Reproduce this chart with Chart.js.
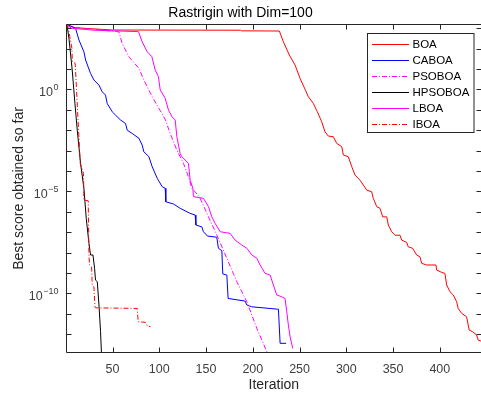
<!DOCTYPE html>
<html lang="en">
  <head>
    <meta charset="UTF-8" />
    <title>Rastrigin with Dim=100</title>
    <style>
      body {
        margin: 0;
        padding: 0;
        background: #ffffff;
      }
      .wrap {
        width: 481px;
        height: 394px;
        position: relative;
      }
    </style>
  </head>
  <body>
    <div class="wrap">
      <canvas id="convChart"></canvas>
    </div>

    <script src="https://cdn.jsdelivr.net/npm/chart.js"></script>
    <script>
      // values are log10 of the best score
      const boaIter = [1, 10, 50, 187, 188, 228.4, 232.7, 239.1, 245.2, 250.5, 255.9, 259.4, 264.7, 269, 273.7, 277.2, 280.8, 286.1, 289.7, 295.1, 296.8, 302.1, 305.8, 309.3, 314.6, 318.2, 321.8, 327.1, 328.8, 332.5, 336, 338.9, 343.2, 344.9, 348.5, 352, 357.4, 359.2, 364.5, 366.2, 370.9, 375.2, 378.7, 380.6, 385.9, 395.8, 396.6, 401.9, 405.4, 407.3, 410.8, 414.3, 418, 419.6, 423.3, 428.6, 431.4, 435, 439.3, 441, 444];
      const boaLog = [3.19, 3.02, 2.91, 2.9, 2.87, 2.86, 2.33, 1.68, 1.19, 0.54, 0.0, -0.36, -0.69, -1.1, -1.59, -2.08, -2.29, -2.32, -2.65, -2.81, -3.22, -3.3, -3.79, -4.2, -4.45, -4.69, -4.94, -5.02, -5.34, -5.75, -5.83, -6.25, -6.25, -6.65, -6.98, -7.15, -7.15, -7.39, -7.5, -7.72, -7.79, -8.12, -8.21, -8.53, -8.61, -8.61, -8.86, -8.97, -9.02, -9.59, -9.92, -10.08, -10.41, -10.74, -10.98, -11.15, -11.8, -11.88, -12.04, -12.29, -12.34];

      const cabaIter = [1, 10.5, 14.1, 19.4, 21.2, 26.5, 30.1, 35.5, 39, 42.5, 44.3, 49.7, 53.2, 58.5, 63.9, 65.7, 71, 78.2, 81.7, 83.5, 88.9, 92.4, 97.8, 103.1, 106.3, 107, 115.2, 122.3, 133, 138.4, 139.1, 145.5, 147.2, 151.5, 161.5, 163.2, 166.9, 167.9, 172.2, 173.6, 191.8, 193.6, 198.9, 227.4, 229.2, 235.6];
      const cabaLog = [3.19, 2.99, 2.42, 1.84, 1.44, 0.78, 0.46, 0.21, -0.12, -0.28, -0.69, -1.1, -1.26, -1.5, -1.67, -2.0, -2.16, -2.4, -2.73, -3.06, -3.3, -3.79, -4.36, -4.77, -4.85, -5.51, -5.62, -5.83, -6.08, -6.16, -6.65, -6.74, -6.98, -7.19, -7.25, -7.79, -7.91, -9.05, -9.1, -10.25, -10.38, -10.57, -10.66, -10.78, -12.45, -12.45];

      const psoIter = [1, 3.4, 56.8, 60.3, 67.5, 78.2, 83.5, 92.4, 99.6, 106.6, 111.6, 118.8, 125.9, 131.2, 134.8, 142.9, 152.6, 161.5, 172.2, 182.9, 193.6, 204.3, 215, 216];
      const psoLog = [3.19, 3.07, 2.82, 2.25, 1.6, 1.03, 0.46, -0.36, -0.93, -1.5, -2.16, -2.98, -3.63, -4.28, -4.85, -5.26, -6.25, -7.14, -8.28, -9.43, -10.41, -11.72, -12.86, -13.0];

      const hpsoIter = [1, 1.6, 3.4, 6.9, 9.8, 12.3, 15.8, 19.4, 21.9, 24.8, 26.5, 29.1, 30.8, 31.8, 33.7, 35.5, 37.2, 38.4];
      const hpsoLog = [3.19, 3.07, 2.5, 0.95, -0.69, -2.0, -3.63, -4.85, -6.32, -7.55, -8.12, -8.12, -8.77, -9.35, -9.43, -10.57, -11.88, -13.2];

      const lboaIter = [1, 6, 30, 77.8, 81.7, 87.1, 92.1, 95.6, 99.1, 101, 106.3, 109.8, 113.5, 117, 118.8, 122.3, 124.1, 131.2, 133, 135.9, 136.5, 147.2, 152.6, 156.2, 159.7, 165.1, 175.7, 181.1, 188.2, 193.6, 198.9, 204.3, 207.8, 213.1, 218.5, 222, 225.6, 231, 234.5, 236.3, 238, 239.9, 242.7];
      const lboaLog = [3.19, 3.0, 2.9, 2.83, 2.33, 1.84, 1.6, 0.95, 0.62, -0.03, -0.44, -1.01, -1.34, -1.5, -2.32, -3.14, -3.3, -3.63, -4.45, -4.85, -5.26, -5.34, -5.75, -6.25, -6.57, -6.98, -7.06, -7.39, -7.63, -7.79, -8.12, -8.28, -8.61, -9.02, -9.1, -9.59, -10.08, -10.17, -10.25, -10.9, -11.55, -12.13, -12.7];

      const iboaIter = [1, 2.7, 6.6, 7, 10.1, 12.6, 15.5, 19, 19.4, 24, 24.8, 25.4, 27.6, 28.3, 30.1, 31.2, 31.8, 76.4, 77.5, 85.3, 87.1, 90.6];
      const iboaLog = [3.19, 2.99, 2.01, 1.35, 1.27, -1.01, -3.63, -4.12, -5.43, -5.46, -8.12, -8.61, -8.7, -9.59, -9.68, -10.66, -10.71, -10.74, -11.39, -11.42, -11.59, -11.64];

      const xTickValues = [50, 100, 150, 200, 250, 300, 350, 400];
      const yDecades = [-12, -11, -10, -9, -8, -7, -6, -5, -4, -3, -2, -1, 0, 1, 2, 3];
      const yLabelExps = [0, -5, -10];

      const FONT = '"Liberation Sans", Arial, sans-serif';
      const AXIS = "#262626";
      const TICKTXT = "#404040";
      const dashDot = [5, 2, 1, 2];

      function pts(xs, ls) {
        return xs.map((x, i) => ({ x: x, y: Math.pow(10, ls[i]) }));
      }

      const series = [
        { label: "BOA", color: "#ff0000", dash: [], x: boaIter, l: boaLog },
        { label: "CABOA", color: "#0000ff", dash: [], x: cabaIter, l: cabaLog },
        { label: "PSOBOA", color: "#ff00ff", dash: dashDot, x: psoIter, l: psoLog },
        { label: "HPSOBOA", color: "#000000", dash: [], x: hpsoIter, l: hpsoLog },
        { label: "LBOA", color: "#ff00ff", dash: [], x: lboaIter, l: lboaLog },
        { label: "IBOA", color: "#ff0000", dash: dashDot, x: iboaIter, l: iboaLog },
      ];

      // box, inward ticks, power-of-ten labels and the legend, MATLAB style
      const framePlugin = {
        id: "frame",
        afterDraw(chart) {
          const ctx = chart.ctx;
          const a = chart.chartArea;
          const xs = chart.scales.x;
          const ys = chart.scales.y;
          const L = Math.round(a.left) - 0.5;
          const R = Math.round(a.right) + 0.5;
          const T = Math.round(a.top) + 0.5;
          const B = Math.round(a.bottom) - 0.5;
          ctx.save();
          ctx.strokeStyle = AXIS;
          ctx.lineWidth = 1;
          ctx.setLineDash([]);
          ctx.beginPath();
          ctx.moveTo(L, T);
          ctx.lineTo(R, T);
          ctx.lineTo(R, B);
          ctx.lineTo(L, B);
          ctx.closePath();
          xTickValues.forEach((v) => {
            const px = Math.round(xs.getPixelForValue(v)) + 0.5;
            ctx.moveTo(px, B);
            ctx.lineTo(px, B - 5);
            ctx.moveTo(px, T);
            ctx.lineTo(px, T + 5);
          });
          yDecades.forEach((e) => {
            const py = Math.round(ys.getPixelForValue(Math.pow(10, e))) + 0.5;
            ctx.moveTo(L, py);
            ctx.lineTo(L + 5, py);
            ctx.moveTo(R, py);
            ctx.lineTo(R - 5, py);
          });
          ctx.stroke();

          // y tick labels 10^n
          ctx.fillStyle = TICKTXT;
          ctx.textBaseline = "alphabetic";
          yLabelExps.forEach((e) => {
            const py = ys.getPixelForValue(Math.pow(10, e));
            const sup = e < 0 ? "\u2212" + String(-e) : String(e);
            ctx.font = "9px " + FONT;
            const supW = ctx.measureText(sup).width;
            const right = 58.5;
            ctx.textAlign = "left";
            ctx.fillText(sup, right - supW, py + 1);
            ctx.font = "12.5px " + FONT;
            const baseW = ctx.measureText("10").width;
            ctx.fillText("10", right - supW - baseW - 0.5, py + 7);
          });

          // legend
          const lx = 367.5, ly = 33.5, lw = 106.5, lh = 99;
          ctx.fillStyle = "#ffffff";
          ctx.fillRect(lx, ly, lw, lh);
          ctx.strokeStyle = AXIS;
          ctx.strokeRect(lx, ly, lw, lh);
          ctx.font = "11.5px " + FONT;
          ctx.textAlign = "left";
          ctx.textBaseline = "middle";
          series.forEach((s, i) => {
            const y = Math.round(43.7 + i * 16.06) + 0.5;
            ctx.strokeStyle = s.color;
            ctx.setLineDash(s.dash);
            ctx.beginPath();
            ctx.moveTo(372, y);
            ctx.lineTo(409, y);
            ctx.stroke();
            ctx.fillStyle = "#000000";
            ctx.fillText(s.label, 412.5, y + 0.5);
          });
          ctx.restore();
        },
      };

      new Chart(document.getElementById("convChart"), {
        type: "line",
        data: {
          datasets: series.map((s, i) => ({
            label: s.label,
            data: pts(s.x, s.l),
            borderColor: s.color,
            borderWidth: 1,
            borderDash: s.dash,
            pointRadius: 0,
            tension: 0,
            fill: false,
            order: series.length - i,
          })),
        },
        options: {
          responsive: true,
          maintainAspectRatio: false,
          animation: false,
          layout: { padding: 0 },
          plugins: {
            legend: { display: false },
            tooltip: { enabled: false },
            title: {
              display: true,
              text: "Rastrigin with Dim=100",
              color: "#000000",
              font: { family: FONT, size: 14, weight: "normal" },
              padding: { top: 5, bottom: 2.5 },
            },
          },
          scales: {
            x: {
              type: "linear",
              min: 1,
              max: 444,
              grid: { display: false },
              border: { display: false },
              afterBuildTicks: (scale) => {
                scale.ticks = xTickValues.map((v) => ({ value: v }));
              },
              afterFit: (scale) => {
                scale.height = 41.3;
              },
              ticks: {
                color: TICKTXT,
                font: { family: FONT, size: 12.5 },
                padding: 1,
                maxRotation: 0,
                autoSkip: false,
              },
              title: {
                display: true,
                text: "Iteration",
                color: AXIS,
                font: { family: FONT, size: 14 },
                padding: { top: 0, bottom: 0 },
              },
            },
            y: {
              type: "logarithmic",
              min: Math.pow(10, -12.91),
              max: Math.pow(10, 3.19),
              grid: { display: false },
              border: { display: false },
              afterBuildTicks: (scale) => {
                scale.ticks = yDecades.map((e) => ({ value: Math.pow(10, e) }));
              },
              afterFit: (scale) => {
                scale.width = 66.7;
              },
              ticks: { display: false },
              title: {
                display: true,
                text: "Best score obtained so far",
                color: AXIS,
                font: { family: FONT, size: 14 },
                padding: { top: 11, bottom: 0 },
              },
            },
          },
        },
        plugins: [framePlugin],
      });
    </script>
  </body>
</html>
